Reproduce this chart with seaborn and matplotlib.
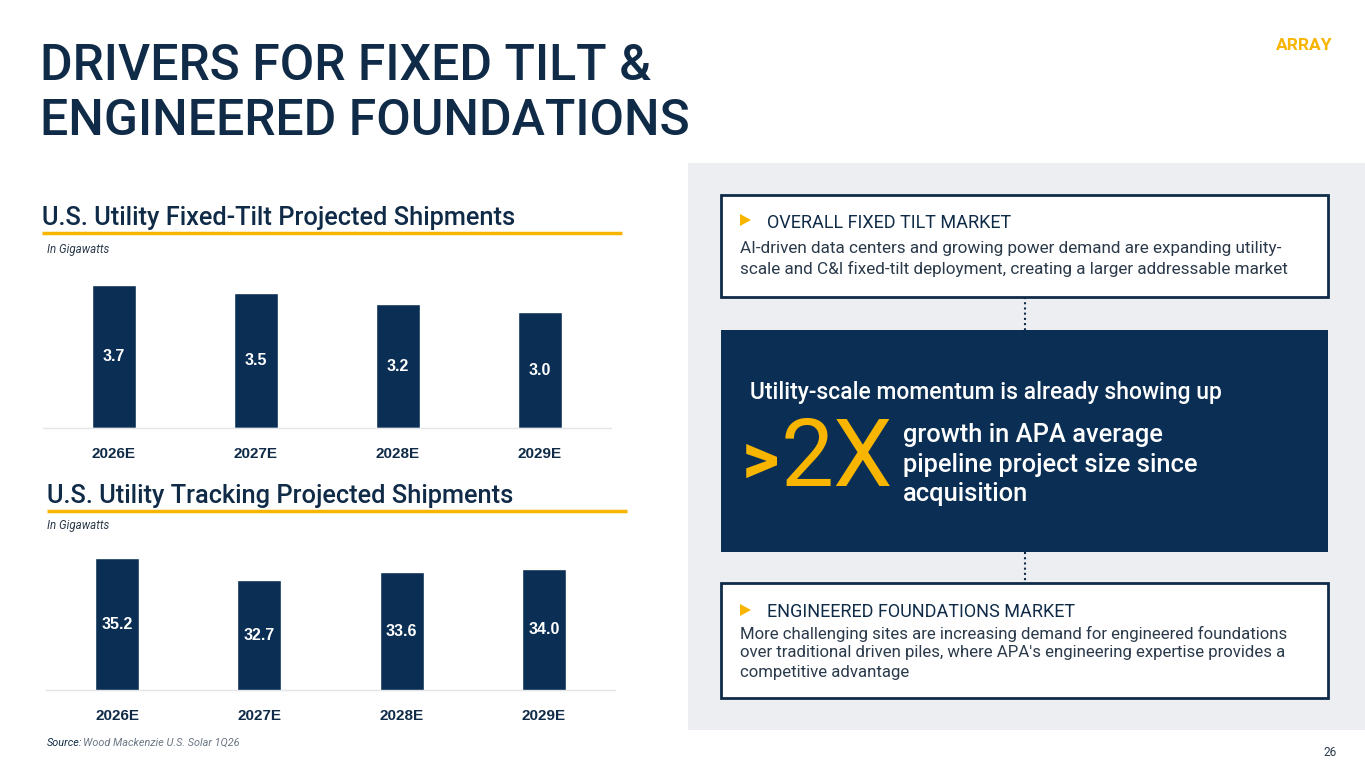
import matplotlib
matplotlib.use("Agg")
import matplotlib.pyplot as plt
import seaborn as sns
from matplotlib.patches import Rectangle, Polygon

# chart data
years = ["2026E", "2027E", "2028E", "2029E"]
fixed_tilt = [3.7, 3.5, 3.2, 3.0]
tracking = [35.2, 32.7, 33.6, 34.0]

navy = "#0b2f54"
title_navy = "#102b47"
gold = "#f7b500"
panel_gray = "#eceef2"
body_gray = "#2b3a4a"

sns.set_theme(style="white")
plt.rcParams["font.family"] = ["Roboto", "DejaVu Sans"]

W, H = 1365, 768
fig = plt.figure(figsize=(W / 100, H / 100), dpi=100)
fig.patch.set_facecolor("white")

# background axes in pixel units for text and boxes
bg = fig.add_axes([0, 0, 1, 1], zorder=0)
bg.set_xlim(0, W)
bg.set_ylim(H, 0)
bg.axis("off")


def px_axes(x0, y_top, x1, y_bot):
    return fig.add_axes([x0 / W, 1 - y_bot / H, (x1 - x0) / W, (y_bot - y_top) / H], zorder=2)


# slide title
bg.text(40, 66, "DRIVERS FOR FIXED TILT &", fontsize=36, fontweight="medium",
        color=title_navy, va="center", ha="left")
bg.text(40, 121, "ENGINEERED FOUNDATIONS", fontsize=36, fontweight="medium",
        color=title_navy, va="center", ha="left")
bg.text(1333, 45, "ARRAY", fontsize=12.5, fontweight="bold", color=gold,
        va="center", ha="right")

# right-hand gray panel
bg.add_patch(Rectangle((688, 163), W - 688, 567, facecolor=panel_gray, edgecolor="none"))

# connectors
bg.plot([1025, 1025], [297, 330], color=title_navy, lw=1.5, ls=(0, (1, 1.5)))
bg.plot([1025, 1025], [552, 583], color=title_navy, lw=1.5, ls=(0, (1, 1.5)))

# box 1
bg.add_patch(Rectangle((721, 195), 607, 102, facecolor="white", edgecolor=title_navy, lw=2))
bg.add_patch(Polygon([[740, 214], [740, 226], [751, 220]], closed=True, facecolor=gold, edgecolor="none"))
bg.text(767, 223, "OVERALL FIXED TILT MARKET", fontsize=13, color=title_navy, va="center")
bg.text(740, 248, "AI-driven data centers and growing power demand are expanding utility-",
        fontsize=12.3, color=body_gray, va="center")
bg.text(740, 269, "scale and C&I fixed-tilt deployment, creating a larger addressable market",
        fontsize=12.3, color=body_gray, va="center")

# dark box
bg.add_patch(Rectangle((721, 330), 607, 222, facecolor=navy, edgecolor="none"))
bg.text(750, 392, "Utility-scale momentum is already showing up", fontsize=16.5,
        color="white", va="center", fontweight="medium")
bg.text(742, 463, ">", fontsize=52, color=gold, va="center", fontweight="bold")
bg.text(781, 460, "2X", fontsize=68, color=gold, va="center")
bg.text(903, 435, "growth in APA average", fontsize=18.4, color="white", va="center", fontweight="medium")
bg.text(903, 465, "pipeline project size since", fontsize=18.4, color="white", va="center", fontweight="medium")
bg.text(903, 494, "acquisition", fontsize=18.4, color="white", va="center", fontweight="medium")

# box 3
bg.add_patch(Rectangle((721, 583), 607, 115, facecolor="white", edgecolor=title_navy, lw=2))
bg.add_patch(Polygon([[740, 604], [740, 616], [751, 610]], closed=True, facecolor=gold, edgecolor="none"))
bg.text(767, 612, "ENGINEERED FOUNDATIONS MARKET", fontsize=13, color=title_navy, va="center")
bg.text(740, 634, "More challenging sites are increasing demand for engineered foundations",
        fontsize=12.1, color=body_gray, va="center")
bg.text(740, 653, "over traditional driven piles, where APA's engineering expertise provides a",
        fontsize=12.1, color=body_gray, va="center")
bg.text(740, 672, "competitive advantage", fontsize=12.1, color=body_gray, va="center")

bg.text(1337, 752, "26", fontsize=8.5, color=body_gray, va="center", ha="right")

# chart headers
bg.text(42, 218, "U.S. Utility Fixed-Tilt Projected Shipments", fontsize=18.3,
        color=title_navy, va="center", fontweight="medium")
bg.plot([42, 622], [233, 233], color=gold, lw=2.5, solid_capstyle="butt")
bg.text(47, 249, "In Gigawatts", fontsize=8.3, style="italic", color=body_gray, va="center")

bg.text(47, 496, "U.S. Utility Tracking Projected Shipments", fontsize=18.3,
        color=title_navy, va="center", fontweight="medium")
bg.plot([47, 627], [511, 511], color=gold, lw=2.5, solid_capstyle="butt")
bg.text(47, 526, "In Gigawatts", fontsize=8.3, style="italic", color=body_gray, va="center")

bg.text(47, 743, "Source:", fontsize=7.8, style="italic", color=title_navy, va="center")
bg.text(83, 743, "Wood Mackenzie U.S. Solar 1Q26", fontsize=7.8, style="italic",
        color="#6b7785", va="center")


def draw_bars(ax, values, ymin, ymax):
    sns.barplot(x=years, y=values, ax=ax, color=navy, width=0.31, saturation=1)
    ax.set_ylim(ymin, ymax)
    ax.set_xlim(-0.5, len(years) - 0.5)
    ax.set_facecolor("none")
    for side in ["top", "left", "right"]:
        ax.spines[side].set_visible(False)
    ax.spines["bottom"].set_color("#e3e5e8")
    ax.spines["bottom"].set_linewidth(1)
    ax.set_yticks([])
    ax.set_xlabel("")
    ax.set_ylabel("")
    ax.tick_params(axis="x", length=0, pad=14, labelsize=11, labelcolor=title_navy)
    for lab in ax.get_xticklabels():
        lab.set_fontweight("bold")
        lab.set_family(["Liberation Sans", "DejaVu Sans"])
    for i, v in enumerate(values):
        ax.text(i, (max(ymin, 0) + v) / 2, f"{v:.1f}", ha="center", va="center",
                color="white", fontsize=11.5, fontweight="bold",
                family=["Liberation Sans", "DejaVu Sans"])


ax1 = px_axes(43, 270, 611, 428)
draw_bars(ax1, fixed_tilt, 0, 4.09)

ax2 = px_axes(46, 545, 615, 690)
draw_bars(ax2, tracking, 20.2, 36.7)

fig.savefig("out.png", dpi=100, facecolor="white")
